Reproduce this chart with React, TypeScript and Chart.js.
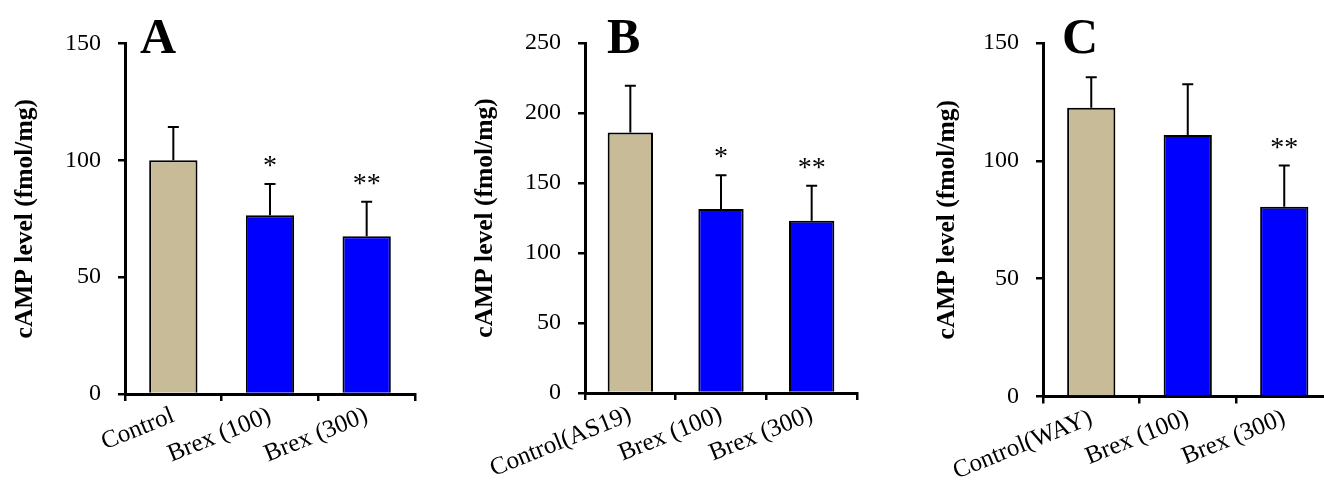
import React, { useEffect, useRef } from "react";
import { Chart, registerables } from "chart.js";

Chart.register(...registerables);

// ---- Data ----
const labelsA = ["Control", "Brex (100)", "Brex (300)"];
const valuesA = [100, 76.5, 67.5];
const errorsA = [14.3, 13.4, 14.8];
const starsA = ["", "*", "**"];

const labelsB = ["Control(AS19)", "Brex (100)", "Brex (300)"];
const valuesB = [186, 131.5, 123];
const errorsB = [33.5, 24, 25];
const starsB = ["", "*", "**"];

const labelsC = ["Control(WAY)", "Brex (100)", "Brex (300)"];
const valuesC = [122.5, 111, 80.5];
const errorsC = [13, 21.5, 17.5];
const starsC = ["", "", "**"];

const yTitle = "cAMP level (fmol/mg)";
const barColors = ["#C8BC98", "#0000FF", "#0000FF"];

const SERIF = "'Liberation Serif', 'Times New Roman', serif";

const overlayPlugin = {
  id: "overlay",
  afterDatasetsDraw(chart: any, _args: any, opts: any) {
    const { ctx } = chart;
    const y = chart.scales.y;
    const meta = chart.getDatasetMeta(0);
    ctx.save();
    ctx.strokeStyle = "#000";
    ctx.fillStyle = "#000";
    ctx.lineWidth = 2;
    opts.values.forEach((v: number, i: number) => {
      const el = meta.data[i];
      const xc = el.x;
      const yTop = y.getPixelForValue(v);
      const yErr = y.getPixelForValue(v + opts.errors[i]);
      ctx.beginPath();
      ctx.moveTo(xc, yTop);
      ctx.lineTo(xc, yErr);
      ctx.moveTo(xc - 5.5, yErr);
      ctx.lineTo(xc + 5.5, yErr);
      ctx.stroke();
      if (opts.stars[i]) {
        ctx.font = `28px ${SERIF}`;
        ctx.textAlign = "center";
        ctx.textBaseline = "alphabetic";
        ctx.fillText(opts.stars[i], xc, yErr - 10);
      }
    });
    ctx.font = `bold 50px ${SERIF}`;
    ctx.textAlign = "left";
    ctx.textBaseline = "alphabetic";
    ctx.fillText(opts.letter, chart.chartArea.left + opts.letterDx, 53);
    ctx.restore();
  },
};

type PanelProps = {
  labels: string[];
  values: number[];
  errors: number[];
  stars: string[];
  yMax: number;
  letter: string;
  letterDx: number;
  left: number;
  width: number;
  axisWidth: number;
  top: number;
  bottom: number;
  padRight: number;
};

function Panel(p: PanelProps) {
  const ref = useRef<HTMLCanvasElement | null>(null);
  const height = 494;
  useEffect(() => {
    if (!ref.current) return;
    const chart = new Chart(ref.current, {
      type: "bar",
      data: {
        labels: p.labels,
        datasets: [
          {
            data: p.values,
            backgroundColor: barColors,
            borderColor: "#000",
            borderWidth: 2,
            categoryPercentage: 1,
            barPercentage: 0.5,
          },
        ],
      },
      options: {
        animation: false,
        responsive: false,
        devicePixelRatio: 1,
        layout: { padding: { top: p.top, right: p.padRight, left: 0, bottom: 0 } },
        plugins: {
          legend: { display: false },
          tooltip: { enabled: false },
          overlay: {
            values: p.values,
            errors: p.errors,
            stars: p.stars,
            letter: p.letter,
            letterDx: p.letterDx,
          },
        } as any,
        scales: {
          x: {
            offset: true,
            grid: {
              display: true,
              offset: true,
              drawOnChartArea: false,
              drawTicks: true,
              tickLength: 7,
              color: "#000",
              lineWidth: 2.5,
            },
            border: { display: true, color: "#000", width: 3 },
            ticks: {
              color: "#000",
              font: { family: SERIF, size: 25 },
              minRotation: 22,
              maxRotation: 22,
              autoSkip: false,
              padding: 0,
            },
            afterFit: (scale: any) => {
              scale.height = height - p.bottom;
            },
          },
          y: {
            min: 0,
            max: p.yMax,
            grid: {
              display: true,
              drawOnChartArea: false,
              drawTicks: true,
              tickLength: 7,
              color: "#000",
              lineWidth: 2.5,
            },
            border: { display: true, color: "#000", width: 3 },
            ticks: {
              stepSize: 50,
              color: "#000",
              font: { family: SERIF, size: 24 },
              padding: 17,
            },
            title: {
              display: true,
              text: yTitle,
              color: "#000",
              font: { family: SERIF, size: 25.5, weight: "bold" },
              padding: { top: 10, bottom: 0 },
            },
            afterFit: (scale: any) => {
              scale.width = p.axisWidth;
            },
          },
        },
      },
      plugins: [overlayPlugin],
    });
    return () => chart.destroy();
  }, []);
  return (
    <canvas
      ref={ref}
      width={p.width}
      height={height}
      style={{ position: "absolute", left: p.left, top: 0, width: p.width, height }}
    />
  );
}

export default function App() {
  return (
    <div
      style={{
        position: "absolute",
        left: 0,
        top: 0,
        width: 1324,
        height: 494,
        overflow: "hidden",
        background: "#fff",
      }}
    >
      <Panel
        labels={labelsA}
        values={valuesA}
        errors={errorsA}
        stars={starsA}
        yMax={150}
        letter="A"
        letterDx={15}
        left={0}
        width={440}
        axisWidth={125}
        top={43.5}
        bottom={394}
        padRight={25}
      />
      <Panel
        labels={labelsB}
        values={valuesB}
        errors={errorsB}
        stars={starsB}
        yMax={250}
        letter="B"
        letterDx={22}
        left={460}
        width={440}
        axisWidth={125}
        top={43}
        bottom={393}
        padRight={43}
      />
      <Panel
        labels={labelsC}
        values={valuesC}
        errors={errorsC}
        stars={starsC}
        yMax={150}
        letter="C"
        letterDx={19}
        left={922}
        width={420}
        axisWidth={121}
        top={43}
        bottom={396.5}
        padRight={9.5}
      />
    </div>
  );
}
